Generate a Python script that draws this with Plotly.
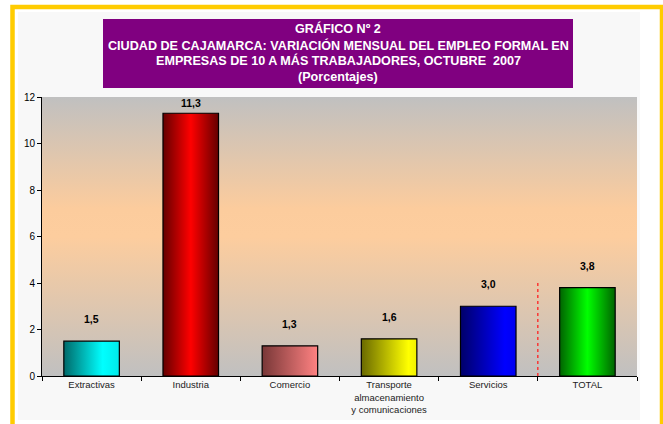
import plotly.graph_objects as go

categories = ["Extractivas", "Industria", "Comercio",
              "Transporte<br>almacenamiento<br>y comunicaciones", "Servicios", "TOTAL"]
values = [1.5, 11.3, 1.3, 1.6, 3.0, 3.8]
y_ticks = [0, 2, 4, 6, 8, 10, 12]
title_lines = ["GRÁFICO Nº 2",
               "CIUDAD DE CAJAMARCA: VARIACIÓN MENSUAL DEL EMPLEO FORMAL EN",
               "EMPRESAS DE 10 A MÁS TRABAJADORES, OCTUBRE  2007",
               "(Porcentajes)"]

# styles: horizontal gradient colour stops per bar
bar_gradients = [
    [[0, "rgb(0,105,105)"], [0.7, "rgb(0,255,255)"], [1, "rgb(0,235,235)"]],
    [[0, "rgb(100,0,0)"], [0.5, "rgb(255,0,0)"], [1, "rgb(100,0,0)"]],
    [[0, "rgb(120,55,55)"], [1, "rgb(255,130,130)"]],
    [[0, "rgb(105,105,0)"], [0.85, "rgb(255,255,0)"], [1, "rgb(240,240,0)"]],
    [[0, "rgb(0,0,105)"], [0.8, "rgb(0,0,255)"], [1, "rgb(0,0,240)"]],
    [[0, "rgb(0,100,0)"], [0.5, "rgb(0,255,0)"], [1, "rgb(0,100,0)"]],
]
bg_gradient = [[0, "rgb(192,192,192)"], [0.5, "rgb(253,205,158)"],
               [0.6, "rgb(252,204,157)"], [1, "rgb(192,192,192)"]]
BAR_W = 0.56
FONT = "Liberation Sans, Arial"

W, H = 663, 424
L, R, T, B = 42, 26, 97, 48
pw, ph = W - L - R, H - T - B
n = len(categories)
y_max = y_ticks[-1]


def px_x(p):
    return (p - L) / pw


def px_y(p):
    return (H - B - p) / ph


fig = go.Figure()

# plot-area gradient background
fig.add_trace(go.Scatter(x=[-0.5, n - 0.5, n - 0.5, -0.5, -0.5], y=[0, 0, y_max, y_max, 0],
                         mode="lines", line=dict(width=0), fill="toself",
                         fillgradient=dict(type="vertical", colorscale=bg_gradient),
                         hoverinfo="skip"))

# gradient bars
for i, v in enumerate(values):
    x0, x1 = i - BAR_W / 2, i + BAR_W / 2
    fig.add_trace(go.Scatter(x=[x0, x1, x1, x0, x0], y=[0, 0, v, v, 0],
                             mode="lines", line=dict(color="black", width=1.2),
                             fill="toself",
                             fillgradient=dict(type="horizontal", colorscale=bar_gradients[i]),
                             hoverinfo="skip"))

shapes = []
# subtle light backdrop behind chart body
shapes.append(dict(type="rect", xref="paper", yref="paper", layer="below",
                   x0=px_x(18), x1=px_x(640), y0=px_y(420), y1=px_y(12),
                   fillcolor="#F8F8F8", line=dict(width=0)))
# dashed separator before TOTAL
shapes.append(dict(type="line", xref="x", yref="y", x0=n - 1.5, x1=n - 1.5,
                   y0=0, y1=4.1, line=dict(color="#FF2020", width=1.3, dash="3px,3px")))
# title box
shapes.append(dict(type="rect", xref="paper", yref="paper",
                   x0=px_x(103), x1=px_x(573), y0=px_y(88), y1=px_y(19),
                   fillcolor="#800080", line=dict(width=0)))
# yellow frame
shapes.append(dict(type="rect", xref="paper", yref="paper",
                   x0=px_x(12.5), x1=px_x(662), y0=px_y(440), y1=px_y(7),
                   fillcolor="rgba(0,0,0,0)", line=dict(color="#FFCC00", width=4.5)))

annotations = []
for j, line in enumerate(title_lines):
    annotations.append(dict(xref="paper", yref="paper", x=px_x(338), y=px_y(29 + 16 * j),
                            text="<b>%s</b>" % line, showarrow=False,
                            xanchor="center", yanchor="middle",
                            font=dict(family=FONT, size=12.6, color="white")))

for i, v in enumerate(values):
    room = (y_max - v) * ph / y_max - 6
    annotations.append(dict(x=i, y=v, xref="x", yref="y", yshift=min(22, room), showarrow=False,
                            text="<b>%s</b>" % ("%.1f" % v).replace(".", ","),
                            yanchor="middle",
                            font=dict(family=FONT, size=10.5, color="black")))

fig.update_layout(
    width=W, height=H,
    margin=dict(l=L, r=R, t=T, b=B, autoexpand=False),
    paper_bgcolor="white", plot_bgcolor="#C0C0C0",
    showlegend=False,
    shapes=shapes, annotations=annotations,
    font=dict(family=FONT, color="black"),
)
fig.update_xaxes(range=[-0.5, n - 0.5], tickmode="array", automargin=False,
                 tickvals=list(range(n)), ticktext=categories,
                 ticks="", ticklen=6, showline=True, linecolor="black", linewidth=1,
                 showgrid=False, zeroline=False,
                 tickfont=dict(size=9.5, color="#222"))
# boundary tick marks via minor ticks
fig.update_xaxes(minor=dict(tickmode="array", tickvals=[k + 0.5 for k in range(-1, n)],
                            ticks="outside", ticklen=4, tickcolor="black", showgrid=False))
fig.update_yaxes(range=[0, y_max], tickvals=y_ticks, ticks="outside", ticklen=4, tickcolor="black",
                 automargin=False,
                 showline=True, linecolor="black", linewidth=1, showgrid=False, zeroline=False,
                 tickfont=dict(size=10, color="black"))

fig.write_html("out.html")
